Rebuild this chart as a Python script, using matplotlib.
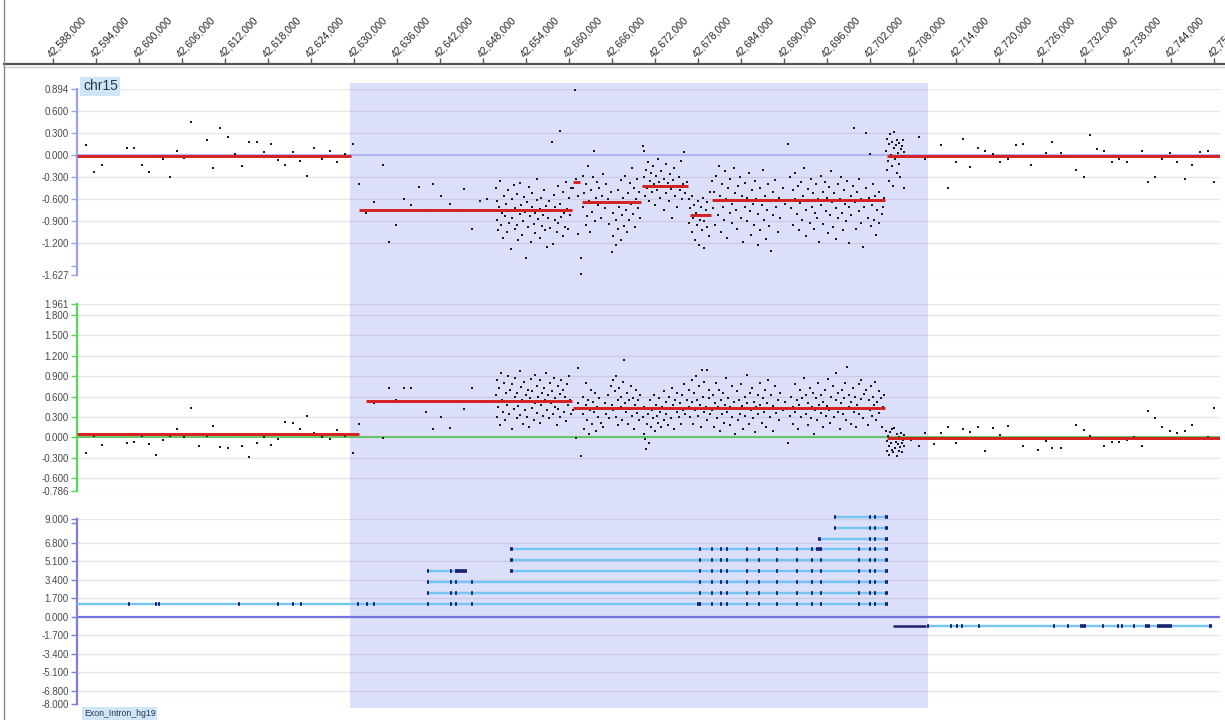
import matplotlib
matplotlib.use("Agg")
import matplotlib.pyplot as plt
from matplotlib.patches import Rectangle
from matplotlib.transforms import blended_transform_factory

plt.rcParams['font.family'] = ['Liberation Sans', 'DejaVu Sans']

# ---------------- data (genomic positions in kb, offset from 42,600 kb) ----------------
BASE_KB = 42600
RULER_TICKS_KB = list(range(-12, 151, 6))          # 42,588,000 ... 42,750,000
SELECTED_REGION = (29.44, 110.09)                    # shaded region

# track 1 : log ratio
P1_TICKS = [0.894, 0.6, 0.3, 0.0, -0.3, -0.6, -0.9, -1.2, -1.627]
P1_SEGMENTS = [(-8.65, 29.6, -0.02), (30.7, 60.35, -0.75), (60.5, 61.5, -0.36),
               (61.8, 70.0, -0.64), (70.2, 76.6, -0.42), (76.9, 79.8, -0.82),
               (79.95, 104.1, -0.61), (104.3, 150.83, -0.02)]
P1_LEFT = [(-7.4,0.14),(-6.3,-0.23),(-5.2,-0.14),(-1.7,0.10),(-0.7,0.10),(0.4,-0.14),(1.4,-0.23),
           (2.4,-0.02),(3.3,-0.06),(4.3,-0.30),(5.3,0.05),(6.3,-0.04),(7.3,0.44),(9.5,0.20),
           (10.3,-0.18),(11.3,0.36),(12.4,0.24),(13.4,0.01),(14.4,-0.15),(15.3,0.18),(16.5,0.18),
           (17.4,0.04),(18.4,0.15),(19.4,-0.07),(20.4,-0.13),(21.5,0.04),(22.5,-0.08),(23.4,-0.28),
           (24.4,0.10),(25.5,-0.05),(26.6,0.05),(27.6,-0.10),(28.7,0.01),(29.9,0.15),(30.7,-0.40)]
P1_SPARSE_IN = [(31.7,-0.79),(32.8,-0.64),(34.0,-0.13),(34.9,-1.18),(35.9,-0.95),(37.0,-0.60),
                (38.0,-0.68),(39.0,-0.43),(40.0,-0.74),(41.0,-0.40),(42.1,-0.55),(43.4,-0.66),
                (44.4,-0.76),(45.3,-0.46),(46.4,-1.00),(47.6,-0.62),(48.6,-0.60),
                (60.6,-0.45),(60.8,0.88),(61.0,-0.32),(61.2,-0.55),(61.3,-1.07),(61.7,-1.39),(61.7,-1.61)]
P1_CLUSTER_A = [(49.8,-0.45),(49.9,-0.88),(50.0,-0.62),(50.1,-1.02),(50.3,-0.70),(50.4,-0.35),(50.5,-0.95),
                (50.7,-0.78),(50.8,-1.12),(50.9,-0.55),(51.1,-0.83),(51.2,-0.66),(51.3,-1.05),(51.5,-0.48),
                (51.6,-0.92),(51.7,-0.74),(51.9,-1.28),(52.0,-0.60),(52.1,-0.86),(52.3,-0.41),(52.4,-1.00),
                (52.5,-0.72),(52.7,-0.95),(52.8,-0.53),(52.9,-1.15),(53.1,-0.80),(53.2,-0.38),(53.3,-0.68),
                (53.5,-1.08),(53.6,-0.90),(53.7,-0.57),(53.9,-0.77),(54.0,-1.40),(54.1,-0.64),(54.3,-0.98),
                (54.4,-0.44),(54.5,-0.83),(54.7,-1.18),(54.8,-0.70),(54.9,-0.52),(55.1,-0.93),(55.2,-0.79),
                (55.3,-1.06),(55.5,-0.61),(55.6,-0.33),(55.7,-0.87),(55.9,-0.73),(56.0,-1.12),(56.1,-0.58),
                (56.3,-0.96),(56.4,-0.81),(56.5,-0.47),(56.7,-1.02),(56.8,-0.69),(56.9,-1.25),(57.1,-0.85),
                (57.2,-0.63),(57.3,-0.99),(57.5,-0.76),(57.6,0.17),(57.7,-1.21),(57.9,-0.54),(58.0,-0.88),
                (58.1,-0.71),(58.3,-1.04),(58.4,-0.42),(58.5,-0.92),(58.7,0.32),(58.8,-0.67),(58.9,-0.84),
                (59.1,-1.10),(59.2,-0.50),(59.3,-0.78),(59.5,-0.97),(59.6,-0.36),(59.7,-0.73),(59.9,-1.00),
                (60.0,-0.59),(60.1,-0.82),(60.3,-0.45)]
P1_CLUSTER_C = [(61.9,-0.28),(62.0,-0.71),(62.1,-0.52),(62.3,-0.95),(62.4,-0.40),(62.5,-0.83),(62.7,-0.15),
                (62.8,-0.62),(62.9,-1.05),(63.1,-0.48),(63.2,-0.77),(63.3,-0.30),(63.5,0.06),(63.6,-0.90),
                (63.7,-0.58),(63.9,-0.36),(64.0,-0.68),(64.2,-0.45),(64.4,-0.85),(64.6,-0.55),(64.8,-0.26),
                (65.0,-0.72),(65.2,-0.40),(65.4,-0.60),(65.6,-0.93),(65.8,-0.50),(66.0,-1.32),(66.1,-0.78),
                (66.2,-1.10),(66.4,-0.65),(66.5,-1.22),(66.6,-0.88),(66.8,-0.47),(66.9,-1.00),(67.0,-0.70),
                (67.2,-0.34),(67.3,-1.15),(67.4,-0.82),(67.6,-0.58),(67.7,-0.96),(67.8,-0.28),(68.0,-0.75),
                (68.1,-1.05),(68.2,-0.52),(68.4,-0.88),(68.5,-0.38),(68.6,-0.67),(68.8,-0.18),(68.9,-0.80),
                (69.0,-0.45),(69.2,-0.98),(69.3,-0.60),(69.5,-0.32),(69.6,-0.72),(69.8,-0.50),(69.9,-0.86)]
P1_CLUSTER_D = [(70.3,0.12),(70.4,0.05),(70.5,-0.30),(70.6,-0.55),(70.8,-0.20),(70.9,-0.45),(71.0,-0.10),
                (71.2,-0.62),(71.3,-0.35),(71.4,-0.25),(71.6,-0.50),(71.7,-0.15),(71.9,-0.40),(72.0,-0.68),
                (72.1,-0.28),(72.3,-0.48),(72.4,-0.05),(72.6,-0.36),(72.7,-0.58),(72.9,-0.22),(73.0,-0.44),
                (73.2,-0.75),(73.3,-0.32),(73.5,-0.12),(73.6,-0.52),(73.8,-0.38),(73.9,-0.62),(74.1,-0.26),
                (74.2,-0.46),(74.4,-0.85),(74.5,-0.34),(74.7,-0.18),(74.8,-0.55),(75.0,-0.42),(75.1,-0.70),
                (75.3,-0.30),(75.5,-0.48),(75.6,-0.08),(75.8,-0.60),(75.9,-0.40),(76.1,0.04),(76.2,-0.52),
                (76.4,-0.36)]
P1_CLUSTER_E = [(76.7,-0.60),(76.8,-0.92),(76.9,-0.72),(77.1,-1.05),(77.2,-0.55),(77.3,-0.85),(77.5,-0.68),
                (77.6,-1.15),(77.7,-0.78),(77.9,-0.95),(78.0,-0.62),(78.1,-1.22),(78.3,-0.88),(78.4,-0.70),
                (78.5,-1.02),(78.7,-0.58),(78.8,-0.90),(78.9,-1.26),(79.1,-0.75),(79.2,-0.98),(79.3,-0.64),
                (79.5,-1.10),(79.6,-0.82),(79.7,-0.50)]
P1_CLUSTER_F = [(80.0,-0.35),(80.1,-0.72),(80.2,-0.50),(80.4,-0.95),(80.5,-0.28),(80.6,-0.62),(80.8,-0.82),
                (80.9,-0.15),(81.0,-0.55),(81.2,-1.05),(81.3,-0.40),(81.5,-0.70),(81.6,-0.88),(81.8,-0.22),
                (81.9,-0.60),(82.1,-1.12),(82.2,-0.45),(82.4,-0.78),(82.5,-0.32),(82.7,-0.66),(82.8,-0.92),
                (83.0,-0.18),(83.1,-0.52),(83.3,-0.75),(83.4,-1.00),(83.6,-0.42),(83.7,-0.63),(83.9,-0.30),
                (84.0,-0.85),(84.2,-0.55),(84.3,-1.18),(84.5,-0.70),(84.6,-0.38),(84.8,-0.90),(84.9,-0.58),
                (85.1,-0.25),(85.2,-0.76),(85.4,-1.08),(85.5,-0.48),(85.7,-0.66),(85.8,-0.95),(86.0,-0.35),
                (86.1,-0.60),(86.3,-1.22),(86.4,-0.80),(86.6,-0.45),(86.7,-1.02),(86.9,-0.68),(87.0,-0.20),
                (87.2,-0.88),(87.3,-0.55),(87.5,-1.14),(87.6,-0.74),(87.8,-0.40),(87.9,-0.96),(88.1,-0.62),
                (88.2,-1.30),(88.4,-0.50),(88.5,-0.82),(88.7,-0.34),(88.9,-0.70),(89.1,-1.05),(89.3,-0.58),
                (89.5,-0.86),(89.8,-0.45),(90.1,-0.66),(90.5,0.15),(90.8,-0.30),(91.0,-0.72),(91.2,-0.48),
                (91.3,-0.95),(91.5,-0.60),(91.6,-0.25),(91.8,-0.80),(91.9,-0.42),(92.1,-1.02),(92.2,-0.65),
                (92.4,-0.36),(92.5,-0.88),(92.7,-0.55),(92.8,-0.18),(93.0,-0.74),(93.1,-1.10),(93.3,-0.46),
                (93.4,-0.62),(93.6,-0.92),(93.7,-0.32),(93.9,-0.70),(94.0,-0.52),(94.2,-1.00),(94.3,-0.78),
                (94.5,-0.40),(94.6,-0.85),(94.8,-0.60),(94.9,-1.18),(95.1,-0.28),(95.2,-0.68),(95.4,-0.50),
                (95.5,-0.94),(95.7,-0.36),(95.8,-0.76),(96.0,-0.58),(96.1,-1.06),(96.3,-0.44),(96.4,-0.82),
                (96.6,-0.22),(96.7,-0.64),(96.9,-0.98),(97.0,-0.52),(97.2,-0.72),(97.3,-1.14),(97.5,-0.40),
                (97.6,-0.86),(97.8,-0.60),(97.9,-0.30),(98.1,-0.78),(98.2,-1.02),(98.4,-0.48),(98.5,-0.66),
                (98.7,-0.90),(98.8,-0.35),(99.0,-0.70),(99.1,-1.20),(99.3,-0.55),(99.4,-0.82),(99.6,-0.42),
                (99.8,0.37),(99.9,-0.64),(100.1,-1.00),(100.2,-0.50),(100.4,-0.76),(100.5,-0.32),(100.7,-0.92),
                (100.8,-0.60),(101.0,-1.25),(101.1,-0.70),(101.4,0.30),(101.5,-0.45),(101.7,-0.85),(101.8,-0.58),
                (102.0,0.01),(102.1,-0.96),(102.3,-0.68),(102.4,-0.40),(102.6,-0.88),(102.7,-0.55),(102.9,-1.08),
                (103.0,-0.74),(103.2,-0.50),(103.3,-0.92),(103.5,-0.62),(103.6,-0.80),(103.8,-0.70),(103.9,-0.58)]
P1_CLUSTER_G = [(104.2,0.05),(104.3,-0.20),(104.4,0.22),(104.5,-0.08),(104.6,0.15),(104.7,-0.35),(104.8,0.28),
                (104.9,0.00),(105.0,-0.15),(105.1,0.18),(105.2,-0.42),(105.3,0.10),(105.4,0.31),(105.5,-0.05),
                (105.6,0.14),(105.7,-0.25),(105.8,0.20),(105.9,0.03),(106.0,-0.12),(106.1,0.16),(106.2,-0.30),
                (106.3,0.08),(106.4,0.12),(106.5,-0.02),(106.6,0.20),(106.7,0.04),(106.8,-0.45)]
P1_RIGHT = [(108.8,0.25),(109.7,-0.06),(111.9,0.14),(112.9,-0.45),(114.0,-0.10),(115.0,0.22),(116.0,-0.16),
            (117.0,0.10),(118.1,0.06),(119.1,0.01),(120.1,-0.10),(121.3,-0.05),(122.3,0.13),(123.4,0.15),
            (124.4,-0.14),(126.5,0.02),(127.4,0.18),(128.6,0.02),(129.6,-0.03),(130.7,-0.20),(131.8,-0.30),
            (132.7,0.27),(133.7,0.08),(134.7,0.06),(135.8,-0.10),(136.7,-0.06),(137.9,-0.09),(139.9,0.06),
            (140.8,-0.37),(141.8,-0.30),(142.8,-0.05),(143.8,0.02),(144.8,-0.09),(146.0,-0.32),(146.9,-0.14),
            (148.0,0.04),(149.1,0.05),(150.0,-0.37)]

# track 2 : second signal
P2_TICKS = [1.961, 1.8, 1.5, 1.2, 0.9, 0.6, 0.3, 0.0, -0.3, -0.6, -0.786]
P2_SEGMENTS = [(-8.65, 30.7, 0.044), (31.7, 60.35, 0.54), (60.5, 104.1, 0.44), (104.3, 150.83, -0.01)]
P2_LEFT = [(-7.4,-0.23),(-6.3,0.02),(-5.2,-0.11),(-1.7,-0.08),(-0.7,-0.07),(0.4,0.02),(1.4,-0.09),(2.4,-0.26),
           (3.3,-0.04),(4.3,0.02),(5.3,0.13),(6.3,0.00),(7.3,0.43),(8.4,-0.12),(9.5,0.02),(10.3,0.17),
           (11.3,-0.14),(12.4,-0.15),(13.4,0.05),(14.4,-0.12),(15.3,-0.29),(16.5,-0.08),(17.4,0.00),
           (18.4,-0.11),(19.4,-0.02),(20.4,0.23),(21.5,0.21),(22.5,0.13),(23.4,0.32),(24.4,0.07),(25.5,0.00),
           (26.6,-0.02),(27.6,0.11),(28.7,0.02),(29.9,-0.23),(30.7,0.20)]
P2_SPARSE_IN = [(32.8,0.50),(34.0,-0.01),(34.9,0.72),(35.9,0.55),(37.0,0.73),(38.0,0.73),(40.0,0.38),
                (41.0,0.12),(42.1,0.30),(43.4,0.14),(44.4,0.52),(45.3,0.42),(46.4,0.73),(47.6,0.52),(48.6,0.52),
                (60.6,0.40),(61.0,-0.01),(61.2,0.50),(61.3,1.02),(61.7,-0.27)]
P2_CLUSTER_A = [(49.8,0.62),(49.9,0.30),(50.0,0.85),(50.1,0.45),(50.3,0.72),(50.4,0.18),(50.5,0.95),(50.7,0.55),
                (50.8,0.38),(50.9,0.80),(51.1,0.25),(51.2,0.66),(51.3,0.48),(51.5,0.90),(51.6,0.35),(51.7,0.70),
                (51.9,0.52),(52.0,0.12),(52.1,0.78),(52.3,0.42),(52.4,0.60),(52.5,0.88),(52.7,0.28),(52.8,0.65),
                (52.9,0.46),(53.1,0.98),(53.2,0.33),(53.3,0.74),(53.5,0.55),(53.6,0.20),(53.7,0.82),(53.9,0.40),
                (54.0,0.62),(54.1,0.30),(54.3,0.70),(54.4,0.15),(54.5,0.58),(54.7,0.86),(54.8,0.44),(54.9,0.68),
                (55.1,0.25),(55.2,0.92),(55.3,0.50),(55.5,0.36),(55.6,0.76),(55.7,0.60),(55.9,0.22),(56.0,0.84),
                (56.1,0.47),(56.3,0.66),(56.4,0.32),(56.5,0.72),(56.7,0.55),(56.8,0.95),(56.9,0.40),(57.1,0.62),
                (57.2,0.28),(57.3,0.80),(57.5,0.50),(57.6,0.68),(57.7,0.35),(57.9,0.88),(58.0,0.45),(58.1,0.58),
                (58.3,0.18),(58.4,0.75),(58.5,0.42),(58.7,0.64),(58.8,0.30),(58.9,0.85),(59.1,0.52),(59.2,0.70),
                (59.3,0.38),(59.5,0.60),(59.6,0.24),(59.7,0.78),(59.9,0.48),(60.0,0.90),(60.1,0.55),(60.3,0.34)]
P2_CLUSTER_B = [(61.9,0.35),(62.0,0.60),(62.1,0.12),(62.3,0.48),(62.4,0.80),(62.5,0.25),(62.7,0.55),(62.8,0.05),
                (62.9,0.40),(63.1,0.70),(63.2,0.20),(63.3,0.52),(63.5,0.38),(63.6,0.65),(63.7,0.10),(63.9,0.45),
                (64.0,0.30),(64.2,0.58),(64.4,0.22),(64.6,0.42),(64.8,0.15),(65.0,0.50),(65.2,0.35),(65.4,0.62),
                (65.6,0.28),(65.8,0.75),(66.0,0.48),(66.1,0.85),(66.2,0.40),(66.4,0.68),(66.5,0.30),(66.6,0.90),
                (66.8,0.55),(66.9,0.18),(67.0,0.72),(67.2,0.45),(67.3,0.60),(67.4,0.25),(67.6,0.82),(67.7,1.14),
                (67.8,0.50),(68.0,0.38),(68.1,0.66),(68.2,0.20),(68.4,0.55),(68.5,0.42),(68.6,0.76),(68.8,0.32),
                (68.9,0.58),(69.0,0.12),(69.2,0.48),(69.3,0.70),(69.5,0.36),(69.6,0.55),(69.8,0.26),(69.9,0.62),
                (70.3,0.30),(70.4,0.05),(70.5,0.45),(70.6,-0.02),(70.8,-0.17),(70.9,0.20),(71.0,0.35),(71.2,-0.08),
                (71.3,0.55),(71.4,0.15),(71.6,0.40),(71.7,0.28),(71.9,0.62),(72.0,0.10),(72.1,0.48),(72.3,0.32),
                (72.4,0.22),(72.6,0.58),(72.7,0.38),(72.9,0.15),(73.0,0.45),(73.2,0.68),(73.3,0.25),(73.5,0.52),
                (73.6,0.35),(73.8,0.18),(73.9,0.60),(74.1,0.42),(74.2,0.28),(74.4,0.72),(74.5,0.48),(74.7,0.12),
                (74.8,0.55),(75.0,0.38),(75.1,0.65),(75.3,0.30),(75.5,0.50),(75.6,0.20),(75.8,0.62),(75.9,0.40),
                (76.1,0.78),(76.2,0.35),(76.4,0.55),
                (76.7,0.45),(76.8,0.70),(76.9,0.30),(77.1,0.85),(77.2,0.52),(77.3,0.20),(77.5,0.65),(77.6,0.40),
                (77.7,0.90),(77.9,0.55),(78.0,0.32),(78.1,0.75),(78.3,0.48),(78.4,0.15),(78.5,0.99),(78.7,0.60),
                (78.8,0.38),(78.9,0.82),(79.1,0.45),(79.2,0.25),(79.3,0.99),(79.5,0.58),(79.6,0.70),(79.7,0.35),
                (80.0,0.40),(80.1,0.62),(80.2,0.15),(80.4,0.50),(80.5,0.80),(80.6,0.28),(80.8,0.45),(80.9,0.70),
                (81.0,0.10),(81.2,0.55),(81.3,0.35),(81.5,0.65),(81.6,0.22),(81.8,0.48),(81.9,0.88),(82.1,0.38),
                (82.2,0.58),(82.4,0.18),(82.5,0.45),(82.7,0.75),(82.8,0.30),(83.0,0.52),(83.1,0.05),(83.3,0.42),
                (83.4,0.68),(83.6,0.25),(83.7,0.55),(83.9,0.35),(84.0,0.78),(84.2,0.46),(84.3,0.12),(84.5,0.60),
                (84.6,0.32),(84.8,0.92),(84.9,0.50),(85.1,0.20),(85.2,0.66),(85.4,0.40),(85.5,0.72),(85.7,0.28),
                (85.8,0.52),(86.0,0.08),(86.1,0.45),(86.3,0.62),(86.4,0.35),(86.6,0.80),(86.7,0.48),(86.9,0.22),
                (87.0,0.58),(87.2,0.38),(87.3,0.70),(87.5,0.15),(87.6,0.50),(87.8,0.85),(87.9,0.42),(88.1,0.30),
                (88.2,0.62),(88.4,0.10),(88.5,0.46),(88.7,0.75),(88.9,0.36),(89.1,0.55),(89.3,0.25),(89.5,0.66),
                (89.8,0.40),(90.1,0.52),(90.5,-0.08),(90.8,0.32),(91.0,0.60),(91.2,0.20),(91.3,0.45),(91.5,0.78),
                (91.6,0.38),(91.8,0.55),(91.9,0.12),(92.1,0.48),(92.2,0.70),(92.4,0.30),(92.5,0.58),(92.7,0.42),
                (92.8,0.88),(93.0,0.35),(93.1,0.62),(93.3,0.18),(93.4,0.50),(93.6,0.72),(93.7,0.28),(93.9,0.45),
                (94.0,0.65),(94.2,0.05),(94.3,0.40),(94.5,0.58),(94.6,0.25),(94.8,0.80),(94.9,0.48),(95.1,0.36),
                (95.2,0.62),(95.4,0.15),(95.5,0.52),(95.7,0.70),(95.8,0.32),(96.0,0.46),(96.1,0.86),(96.3,0.40),
                (96.4,0.22),(96.6,0.60),(96.7,0.44),(96.9,0.75),(97.0,0.30),(97.2,0.55),(97.3,0.95),(97.5,0.38),
                (97.6,0.65),(97.8,0.12),(97.9,0.50),(98.1,0.70),(98.2,0.34),(98.4,0.58),(98.5,0.80),(98.7,0.26),
                (98.8,1.03),(99.0,0.45),(99.1,0.62),(99.3,0.20),(99.4,0.52),(99.6,0.72),(99.8,0.38),(99.9,0.60),
                (100.1,0.15),(100.2,0.48),(100.4,0.78),(100.5,0.35),(100.7,0.56),(100.8,0.85),(101.0,0.28),
                (101.1,0.64),(101.4,0.42),(101.5,0.70),(101.7,0.18),(101.8,0.55),(102.0,0.40),(102.1,0.75),
                (102.3,0.32),(102.4,0.60),(102.6,0.48),(102.7,0.82),(102.9,0.25),(103.0,0.52),(103.2,0.68),
                (103.3,0.36),(103.5,0.58),(103.6,0.15),(103.8,0.45),(103.9,0.62)]
P2_CLUSTER_G = [(104.2,0.10),(104.3,-0.05),(104.4,-0.20),(104.5,0.02),(104.6,-0.12),(104.7,-0.25),(104.8,0.08),
                (104.9,-0.08),(105.0,-0.18),(105.1,0.12),(105.2,-0.22),(105.3,-0.02),(105.4,0.14),(105.5,-0.15),
                (105.6,-0.06),(105.7,-0.27),(105.8,0.05),(105.9,-0.10),(106.0,-0.20),(106.1,0.00),(106.2,-0.14),
                (106.3,0.06),(106.4,-0.08),(106.5,-0.22),(106.6,-0.03),(106.7,0.04),(106.8,-0.12)]
P2_RIGHT = [(107.7,-0.04),(108.8,-0.13),(109.7,0.06),(110.9,-0.10),(111.9,0.07),(112.9,0.15),(114.0,-0.08),
            (115.0,0.13),(116.0,0.08),(117.0,0.15),(118.1,-0.20),(119.1,0.14),(120.1,0.04),(121.3,0.17),
            (123.4,-0.13),(124.4,-0.02),(125.4,-0.18),(126.5,-0.05),(127.4,-0.15),(128.6,-0.16),(129.6,-0.02),
            (130.7,0.19),(131.8,0.11),(132.7,0.02),(133.7,-0.01),(134.7,-0.13),(135.8,-0.07),(136.7,-0.07),
            (137.9,-0.04),(138.8,0.00),(139.9,-0.13),(140.8,0.39),(141.8,0.28),(142.8,0.15),(143.8,0.10),
            (144.8,0.07),(146.0,0.10),(146.9,0.18),(149.1,0.00),(150.0,0.44)]

# track 3 : Exon_Intron_hg19 transcripts
P3_TICKS = [9.0, 6.8, 5.1, 3.4, 1.7, 0.0, -1.7, -3.4, -5.1, -6.8, -8.0]
TX_LINES = [(1.2, -8.65, 104.5), (2.2, 40.3, 104.5), (3.2, 40.3, 104.5), (4.2, 40.3, 45.8),
            (4.2, 51.7, 104.5), (5.2, 51.7, 104.5), (6.2, 51.7, 104.5), (7.2, 94.7, 104.5),
            (8.2, 97.1, 104.5), (9.2, 97.1, 104.5), (-0.8, 110.1, 149.7)]
TX_DARK_LINES = [(-0.8, 105.2, 109.8)]
EXON_CORE = [78.3, 79.95, 81.2, 82.1, 84.8, 86.5, 89.0, 91.8, 93.9, 95.1, 100.5, 102.0, 102.7]
EXON_DOTS = {
    1.2: [-1.4, 2.4, 2.8, 14.0, 19.4, 21.5, 22.6, 30.6, 31.8, 32.8, 40.3, 43.5, 44.2, 46.5],
    2.2: [40.3, 43.5, 44.2, 46.5],
    3.2: [40.3, 43.5, 44.2, 46.5],
    4.2: [40.3, 43.5, 44.2],
    5.2: [],
    6.2: [],
    7.2: [102.0, 102.7],
    8.2: [97.1, 102.0, 102.7],
    9.2: [97.1, 102.0, 102.7],
    -0.8: [110.1, 113.3, 114.1, 114.9, 117.2, 127.7, 129.6, 134.5, 136.6, 137.2, 138.8],
}
EXON_CORE_ROWS = [1.2, 2.2, 3.2, 4.2, 5.2, 6.2]
EXON_BLOCKS = [(1.2, 77.9, 78.4), (4.2, 44.3, 45.8), (4.2, 51.7, 52.2), (5.2, 51.7, 52.2),
               (6.2, 51.7, 52.2), (6.2, 94.5, 95.2), (7.2, 94.7, 95.2),
               (1.2, 104.1, 104.5), (2.2, 104.1, 104.5), (3.2, 104.1, 104.5), (4.2, 104.1, 104.5),
               (5.2, 104.1, 104.5), (6.2, 104.1, 104.5), (7.2, 104.1, 104.5), (8.2, 104.1, 104.5),
               (9.2, 104.1, 104.5),
               (-0.8, 131.3, 132.1), (-0.8, 140.4, 141.0), (-0.8, 142.1, 144.2), (-0.8, 149.3, 149.7)]

# ---------------- figure ----------------
W, H = 1225, 720
fig = plt.figure(figsize=(W / 100, H / 100), dpi=100)
fig.patch.set_facecolor('white')


def ax_px(l, t, r, b):
    return fig.add_axes([l / W, 1 - b / H, (r - l) / W, (b - t) / H])


XLIM_PANEL = (-8.65, 150.83)
XLIM_RULER = (-18.84, 151.53)

# ruler
axr = ax_px(4, 64, 1225, 70)
axr.set_xlim(*XLIM_RULER)
axr.set_ylim(0, 1)
axr.patch.set_visible(False)
for s in ['left', 'right', 'bottom']:
    axr.spines[s].set_visible(False)
axr.spines['top'].set_color('#555555')
axr.spines['top'].set_linewidth(1.6)
axr.set_yticks([])
axr.xaxis.set_ticks_position('top')
axr.set_xticks(RULER_TICKS_KB)
axr.set_xticklabels([])
axr.tick_params(axis='x', direction='out', length=4, width=1, color='#555555')
for t in RULER_TICKS_KB:
    axr.annotate(f"{int(round((BASE_KB + t) * 1000)):,}", xy=(t, 1), xycoords=('data', 'axes fraction'),
                 xytext=(0, 3.5), textcoords='offset points', rotation=47, rotation_mode='anchor',
                 ha='left', va='bottom', fontsize=7.4, color='#262626', annotation_clip=False)
fig.add_artist(plt.Line2D([4 / W, 1], [1 - 67 / H, 1 - 67 / H], color='#cfcfcf', lw=1))
fig.add_artist(plt.Line2D([4 / W, 4 / W], [0, 1], color='#8a8a8a', lw=1))

SCATTER = dict(marker='s', ms=2.0, color='#1a1a1a', ls='none', mew=0)
GRID_C = (0.45, 0.45, 0.6, 0.18)


def setup_track(ax, ticks, ylim, axis_color, minor=None):
    ax.set_xlim(*XLIM_PANEL)
    ax.set_ylim(*ylim)
    ax.patch.set_visible(False)
    for s in ['top', 'right', 'bottom']:
        ax.spines[s].set_visible(False)
    ax.spines['left'].set_color(axis_color)
    ax.spines['left'].set_linewidth(1.6)
    ax.set_xticks([])
    ax.set_yticks(ticks)
    ax.set_yticklabels([f"{v:.3f}" for v in ticks])
    if minor:
        ax.set_yticks(minor, minor=True)
    ax.tick_params(axis='y', which='both', length=4, width=1, color=axis_color,
                   labelsize=7, labelcolor='#4a4a4a', pad=2)
    for v in ticks:
        ax.axhline(v, color=GRID_C, lw=1, zorder=0)


def pts(ax, lst):
    ax.plot([p[0] for p in lst], [p[1] for p in lst], zorder=3, **SCATTER)


# track 1
ax1 = ax_px(77, 89, 1220, 275)
setup_track(ax1, P1_TICKS, (-1.627, 0.894), '#9aa2ee', minor=[-1.5])
ax1.axhline(0, color='#a9b2f2', lw=1.3, zorder=1)
for group in [P1_LEFT, P1_SPARSE_IN, P1_CLUSTER_A, P1_CLUSTER_C, P1_CLUSTER_D, P1_CLUSTER_E,
              P1_CLUSTER_F, P1_CLUSTER_G, P1_RIGHT]:
    pts(ax1, group)
for x0, x1, v in P1_SEGMENTS:
    ax1.hlines(v, x0, x1, color='#d61f1f', lw=2.1, zorder=4)

# track 2
ax2 = ax_px(77, 304, 1220, 491)
setup_track(ax2, P2_TICKS, (-0.786, 1.961), '#55d955')
ax2.axhline(0, color='#4cc24c', lw=1.2, zorder=1)
for group in [P2_LEFT, P2_SPARSE_IN, P2_CLUSTER_A, P2_CLUSTER_B, P2_CLUSTER_G, P2_RIGHT]:
    pts(ax2, group)
for x0, x1, v in P2_SEGMENTS:
    ax2.hlines(v, x0, x1, color='#d61f1f', lw=2.1, zorder=4)

# track 3
ax3 = ax_px(77, 519, 1220, 704)
setup_track(ax3, P3_TICKS, (-8.0, 9.0), '#7d7de2', minor=[8.6])
ax3.axhline(0, color='#7373e0', lw=1.6, zorder=1)
LINE_C = '#72c6f0'
EXON_C = '#1c2170'
for row, x0, x1 in TX_LINES:
    ax3.hlines(row, x0, x1, color=LINE_C, lw=1.7, zorder=3, clip_on=False)
for row, x0, x1 in TX_DARK_LINES:
    ax3.hlines(row, x0, x1, color=EXON_C, lw=1.8, zorder=4, clip_on=False)
for row, plist in EXON_DOTS.items():
    allp = plist + (EXON_CORE if row in EXON_CORE_ROWS else [])
    for p in allp:
        ax3.hlines(row, p - 0.14, p + 0.14, color=EXON_C, lw=2.6, zorder=5, clip_on=False)
for row, x0, x1 in EXON_BLOCKS:
    ax3.hlines(row, x0, x1, color=EXON_C, lw=2.6, zorder=5, clip_on=False)

# selected region shading spanning all tracks
tr = blended_transform_factory(ax1.transData, fig.transFigure)
fig.add_artist(Rectangle((SELECTED_REGION[0], 1 - 708 / H), SELECTED_REGION[1] - SELECTED_REGION[0],
                         (708 - 83) / H, transform=tr, facecolor='#dcdffa', edgecolor='none', zorder=-1))

# labels
BOX = dict(boxstyle='square,pad=0.18', fc='#cfe6f8', ec='none')
fig.text(83 / W, 1 - 90 / H, 'chr15', fontsize=10, color='#2b3550', va='baseline', ha='left', bbox=BOX)
fig.text(84 / W, 1 - 716 / H, 'Exon_Intron_hg19', fontsize=6.3, color='#2b3550', va='baseline',
         ha='left', bbox=BOX)

fig.savefig('out.png', dpi=100)
